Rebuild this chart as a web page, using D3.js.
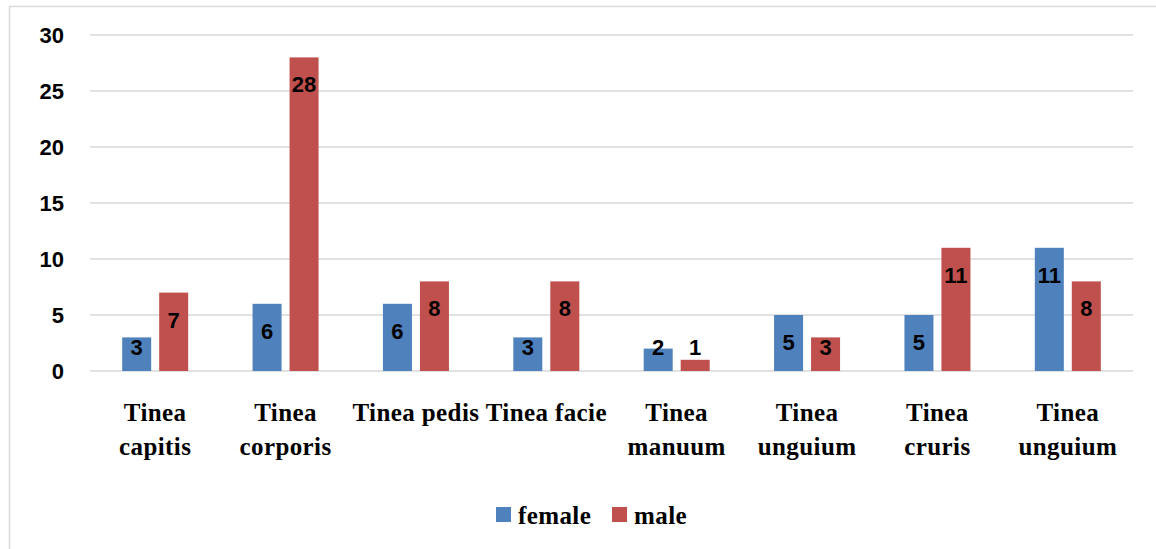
<!DOCTYPE html>
<html>
<head>
<meta charset="utf-8">
<script src="https://cdn.jsdelivr.net/npm/d3@7"></script>
<style>
  body { margin: 0; background: #fff; }
  svg { display: block; }
</style>
</head>
<body>
<svg class="chart" width="1156" height="549"></svg>
<script>
const categories = [
  ["Tinea", "capitis"],
  ["Tinea", "corporis"],
  ["Tinea pedis"],
  ["Tinea facie"],
  ["Tinea", "manuum"],
  ["Tinea", "unguium"],
  ["Tinea", "cruris"],
  ["Tinea", "unguium"]
]
const female = [3, 6, 6, 3, 2, 5, 5, 11]
const male = [7, 28, 8, 8, 1, 3, 11, 8]
const seriesNames = ["female", "male"]
const yTicks = [0, 5, 10, 15, 20, 25, 30]

const colors = { female: "#4F81BD", male: "#C0504D" }
const margin = { top: 35, left: 90, right: 23 }
const width = 1156
const plotBottom = 371

const svg = d3.select("svg.chart")

// outer frame
svg.append("rect")
  .attr("x", 9.5).attr("y", 6.5)
  .attr("width", 1200).attr("height", 600)
  .attr("fill", "none")
  .attr("stroke", "#d9d9d9")
  .attr("stroke-width", 1.5)

const x = d3.scaleBand()
  .domain(d3.range(categories.length))
  .range([margin.left, width - margin.right])

const x1 = d3.scaleBand()
  .domain(seriesNames)
  .range([0, x.bandwidth()])
  .paddingInner(0.216)
  .paddingOuter(0.87)

const y = d3.scaleLinear().domain([0, 30]).range([plotBottom, margin.top])

// gridlines
svg.append("g")
  .selectAll("line")
  .data(yTicks)
  .join("line")
  .attr("x1", margin.left)
  .attr("x2", width - margin.right)
  .attr("y1", d => y(d))
  .attr("y2", d => y(d))
  .attr("stroke", "#d9d9d9")
  .attr("stroke-width", 1.5)

// y tick labels
svg.append("g")
  .selectAll("text")
  .data(yTicks)
  .join("text")
  .attr("x", 64)
  .attr("y", d => y(d))
  .attr("dy", "0.36em")
  .attr("text-anchor", "end")
  .attr("font-family", "Liberation Sans, Arial, sans-serif")
  .attr("font-weight", "bold")
  .attr("font-size", 22)
  .text(d => d)

const rows = categories.map((c, i) => ({ i, female: female[i], male: male[i] }))

const groups = svg.append("g")
  .selectAll("g")
  .data(rows)
  .join("g")
  .attr("transform", d => `translate(${x(d.i)},0)`)

const bars = groups.selectAll("g")
  .data(d => seriesNames.map(k => ({ key: k, value: d[k] })))
  .join("g")

bars.append("rect")
  .attr("x", d => x1(d.key))
  .attr("width", x1.bandwidth())
  .attr("y", d => y(d.value))
  .attr("height", d => y(0) - y(d.value))
  .attr("fill", d => colors[d.key])

bars.append("text")
  .attr("x", d => x1(d.key) + x1.bandwidth() / 2)
  .attr("y", d => Math.min(y(d.value) + 27, y(0) - 24))
  .attr("dy", "0.36em")
  .attr("text-anchor", "middle")
  .attr("font-family", "Liberation Sans, Arial, sans-serif")
  .attr("font-weight", "bold")
  .attr("font-size", 22)
  .attr("fill", "#000")
  .text(d => d.value)

// category labels
svg.append("g")
  .selectAll("text")
  .data(categories)
  .join("text")
  .attr("x", (d, i) => x(i) + x.bandwidth() / 2)
  .attr("y", 421)
  .attr("text-anchor", "middle")
  .attr("font-family", "Liberation Serif, 'DejaVu Serif', serif")
  .attr("font-weight", "bold")
  .attr("font-size", 25)
  .attr("letter-spacing", 0.4)
  .attr("fill", "#000")
  .selectAll("tspan")
  .data(d => d)
  .join("tspan")
  .attr("x", function() { return d3.select(this.parentNode).attr("x") })
  .attr("dy", (d, i) => i === 0 ? 0 : 34)
  .text(d => d)

// legend
const legend = svg.append("g")
  .selectAll("g")
  .data(seriesNames)
  .join("g")
  .attr("transform", (d, i) => `translate(${496 + i * 116},507)`)

legend.append("rect")
  .attr("width", 15).attr("height", 15)
  .attr("fill", d => colors[d])

legend.append("text")
  .attr("x", 22)
  .attr("y", 7.5)
  .attr("dy", "0.36em")
  .attr("font-family", "Liberation Serif, 'DejaVu Serif', serif")
  .attr("font-weight", "bold")
  .attr("font-size", 25)
  .attr("letter-spacing", 0.4)
  .text(d => d)
</script>
</body>
</html>
